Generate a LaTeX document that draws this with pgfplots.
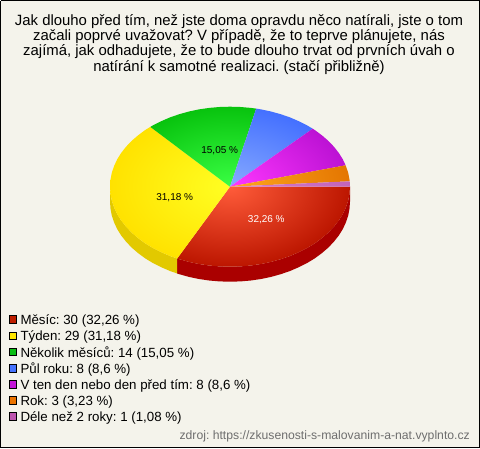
\documentclass[border=0pt]{standalone}
\usepackage{pgfplots}
\pgfplotsset{compat=1.18}
\usepackage{fontspec}
\setmainfont{Liberation Sans}
\frenchspacing
\definecolor{bg}{RGB}{244,243,235}
\definecolor{sred}{RGB}{170,0,0}
\definecolor{syel}{RGB}{226,201,0}
\definecolor{lred}{RGB}{190,30,0}
\definecolor{lyel}{RGB}{255,230,0}
\definecolor{lgre}{RGB}{10,190,20}
\definecolor{lblu}{RGB}{70,115,255}
\definecolor{lmag}{RGB}{195,20,215}
\definecolor{lora}{RGB}{235,115,0}
\definecolor{lpur}{RGB}{190,85,175}
\definecolor{ired}{RGB}{255,92,58}
\definecolor{ored}{RGB}{188,22,0}
\definecolor{iyel}{RGB}{255,255,35}
\definecolor{oyel}{RGB}{255,226,0}
\definecolor{igre}{RGB}{58,255,68}
\definecolor{ogre}{RGB}{8,195,14}
\definecolor{iblu}{RGB}{135,170,255}
\definecolor{oblu}{RGB}{68,112,255}
\definecolor{imag}{RGB}{255,55,255}
\definecolor{omag}{RGB}{188,18,212}
\definecolor{iora}{RGB}{255,168,32}
\definecolor{oora}{RGB}{228,118,0}
\definecolor{ipur}{RGB}{215,125,205}
\definecolor{opur}{RGB}{195,100,185}
\begin{document}
\begin{tikzpicture}
\begin{axis}[
  scale only axis, width=480pt, height=448pt,
  xmin=0, xmax=480, ymin=0, ymax=448, y dir=reverse,
  hide axis, unbounded coords=jump,
]
% background and frame
\addplot[fill=bg, draw=black, line width=1pt] coordinates {(0.5,0.5) (479.5,0.5) (479.5,447.5) (0.5,447.5) (0.5,0.5)};
% sides
\addplot[fill=sred, draw=none] coordinates {(350.0,186.7)(349.5,193.7)(348.2,200.6)(345.9,207.4)(342.8,214.1)(338.8,220.5)(333.9,226.7)(328.3,232.6)(321.9,238.1)(314.9,243.3)(307.1,248.0)(298.8,252.2)(290.0,256.0)(280.7,259.2)(271.0,261.9)(261.1,264.0)(250.8,265.5)(240.5,266.4)(230.0,266.7)(219.5,266.4)(209.2,265.5)(198.9,264.0)(189.0,261.9)(179.3,259.2)(177.2,258.5)
 (177.2,273.5)(179.3,274.2)(189.0,276.9)(198.9,279.0)(209.2,280.5)(219.5,281.4)(230.0,281.7)(240.5,281.4)(250.8,280.5)(261.1,279.0)(271.0,276.9)(280.7,274.2)(290.0,271.0)(298.8,267.2)(307.1,263.0)(314.9,258.3)(321.9,253.1)(328.3,247.6)(333.9,241.7)(338.8,235.5)(342.8,229.1)(345.9,222.4)(348.2,215.6)(349.5,208.7)(350.0,201.7)(350.0,186.7)};
\addplot[fill=syel, draw=none] coordinates {(177.2,258.5)(170.0,256.0)(161.2,252.2)(152.9,248.0)(145.1,243.3)(138.1,238.1)(131.7,232.6)(126.1,226.7)(121.2,220.5)(117.2,214.1)(114.1,207.4)(111.8,200.6)(110.5,193.7)(110.0,186.7)
 (110.0,201.7)(110.5,208.7)(111.8,215.6)(114.1,222.4)(117.2,229.1)(121.2,235.5)(126.1,241.7)(131.7,247.6)(138.1,253.1)(145.1,258.3)(152.9,263.0)(161.2,267.2)(170.0,271.0)(177.2,273.5)(177.2,258.5)};
% top slices: isolated points at the corners of the ellipse's box centre the shading on the pie
\addplot[shade, inner color=ired, outer color=ored, draw=none] coordinates {(230,186.7)(350.0,186.7)(349.5,193.7)(348.2,200.6)(345.9,207.4)(342.8,214.1)(338.8,220.5)(333.9,226.7)(328.3,232.6)(321.9,238.1)(314.9,243.3)(307.1,248.0)(298.8,252.2)(290.0,256.0)(280.7,259.2)(271.0,261.9)(261.1,264.0)(250.8,265.5)(240.5,266.4)(230.0,266.7)(219.5,266.4)(209.2,265.5)(198.9,264.0)(189.0,261.9)(179.3,259.2)(177.2,258.5)(230,186.7)(110,nan)(110,106.7)(110,nan)(350,266.7)};
\addplot[shade, inner color=iyel, outer color=oyel, draw=none] coordinates {(230,186.7)(177.2,258.5)(170.0,256.0)(161.2,252.2)(152.9,248.0)(145.1,243.3)(138.1,238.1)(131.7,232.6)(126.1,226.7)(121.2,220.5)(117.2,214.1)(114.1,207.4)(111.8,200.6)(110.5,193.7)(110.0,186.7)(110.5,179.7)(111.8,172.8)(114.1,166.0)(117.2,159.3)(121.2,152.9)(126.1,146.7)(131.7,140.8)(138.1,135.3)(145.1,130.1)(150.3,126.9)(230,186.7)(110,nan)(110,106.7)(110,nan)(350,266.7)};
\addplot[shade, inner color=igre, outer color=ogre, draw=none] coordinates {(230,186.7)(150.3,126.9)(152.9,125.4)(161.2,121.2)(170.0,117.4)(179.3,114.2)(189.0,111.5)(198.9,109.4)(209.2,107.9)(219.5,107.0)(230.0,106.7)(240.5,107.0)(250.8,107.9)(256.2,108.6)(230,186.7)(110,nan)(110,106.7)(110,nan)(350,266.7)};
\addplot[shade, inner color=iblu, outer color=oblu, draw=none] coordinates {(230,186.7)(256.2,108.6)(261.1,109.4)(271.0,111.5)(280.7,114.2)(290.0,117.4)(298.8,121.2)(307.1,125.4)(312.7,128.7)(230,186.7)(110,nan)(110,106.7)(110,nan)(350,266.7)};
\addplot[shade, inner color=imag, outer color=omag, draw=none] coordinates {(230,186.7)(312.7,128.7)(314.9,130.1)(321.9,135.3)(328.3,140.8)(333.9,146.7)(338.8,152.9)(342.8,159.3)(345.6,165.3)(230,186.7)(110,nan)(110,106.7)(110,nan)(350,266.7)};
\addplot[shade, inner color=iora, outer color=oora, draw=none] coordinates {(230,186.7)(345.6,165.3)(345.9,166.0)(348.2,172.8)(349.5,179.7)(349.7,181.3)(230,186.7)(110,nan)(110,106.7)(110,nan)(350,266.7)};
\addplot[shade, inner color=ipur, outer color=opur, draw=none] coordinates {(230,186.7)(349.7,181.3)(350.0,186.7)(230,186.7)(110,nan)(110,106.7)(110,nan)(350,266.7)};
% slice labels
\node[text=white, font=\fontsize{10}{12}\selectfont] at (axis cs:266.3,220) {32,26 \%};
\node[text=black, font=\fontsize{10}{12}\selectfont] at (axis cs:174.7,197.7) {31,18 \%};
\node[text=black, font=\fontsize{10}{12}\selectfont] at (axis cs:219.7,150.7) {15,05 \%};
% title
\node[font=\fontsize{14.9}{15}\selectfont] at (axis cs:239,21.3) {Jak dlouho před tím, než jste doma opravdu něco natírali, jste o tom};
\node[font=\fontsize{14.9}{15}\selectfont] at (axis cs:239,36.5) {začali poprvé uvažovat? V případě, že to teprve plánujete, nás};
\node[font=\fontsize{14.9}{15}\selectfont] at (axis cs:239,52) {zajímá, jak odhadujete, že to bude dlouho trvat od prvních úvah o};
\node[font=\fontsize{14.9}{15}\selectfont] at (axis cs:239,67.3) {natírání k samotné realizaci. (stačí přibližně)};
% legend
\addplot[only marks, mark=square*, mark size=3.8pt, mark options={fill=lred, draw=black, line width=0.8pt}] coordinates {(13,319.5)};
\addplot[only marks, mark=square*, mark size=3.8pt, mark options={fill=lyel, draw=black, line width=0.8pt}] coordinates {(13,335.8)};
\addplot[only marks, mark=square*, mark size=3.8pt, mark options={fill=lgre, draw=black, line width=0.8pt}] coordinates {(13,352)};
\addplot[only marks, mark=square*, mark size=3.8pt, mark options={fill=lblu, draw=black, line width=0.8pt}] coordinates {(13,368.2)};
\addplot[only marks, mark=square*, mark size=3.8pt, mark options={fill=lmag, draw=black, line width=0.8pt}] coordinates {(13,384.2)};
\addplot[only marks, mark=square*, mark size=3.8pt, mark options={fill=lora, draw=black, line width=0.8pt}] coordinates {(13,400.3)};
\addplot[only marks, mark=square*, mark size=3.8pt, mark options={fill=lpur, draw=black, line width=0.8pt}] coordinates {(13,416.5)};
\node[anchor=west, inner sep=0pt, font=\fontsize{13.3}{15}\selectfont] at (axis cs:20.3,321) {Měsíc: 30 (32,26 \%)};
\node[anchor=west, inner sep=0pt, font=\fontsize{13.3}{15}\selectfont] at (axis cs:20.3,337.3) {Týden: 29 (31,18 \%)};
\node[anchor=west, inner sep=0pt, font=\fontsize{13.3}{15}\selectfont] at (axis cs:20.3,353.5) {Několik měsíců: 14 (15,05 \%)};
\node[anchor=west, inner sep=0pt, font=\fontsize{13.3}{15}\selectfont] at (axis cs:20.3,369.7) {Půl roku: 8 (8,6 \%)};
\node[anchor=west, inner sep=0pt, font=\fontsize{13.3}{15}\selectfont] at (axis cs:20.3,385.7) {V ten den nebo den před tím: 8 (8,6 \%)};
\node[anchor=west, inner sep=0pt, font=\fontsize{13.3}{15}\selectfont] at (axis cs:20.3,401.8) {Rok: 3 (3,23 \%)};
\node[anchor=west, inner sep=0pt, font=\fontsize{13.3}{15}\selectfont] at (axis cs:20.3,418) {Déle než 2 roky: 1 (1,08 \%)};
% source
\node[anchor=east, inner sep=0pt, text={rgb,255:red,110;green,110;blue,110}, font=\fontsize{12.2}{14}\selectfont] at (axis cs:470,436.5) {zdroj: https://zkusenosti-s-malovanim-a-nat.vyplnto.cz};
\end{axis}
\end{tikzpicture}
\end{document}
